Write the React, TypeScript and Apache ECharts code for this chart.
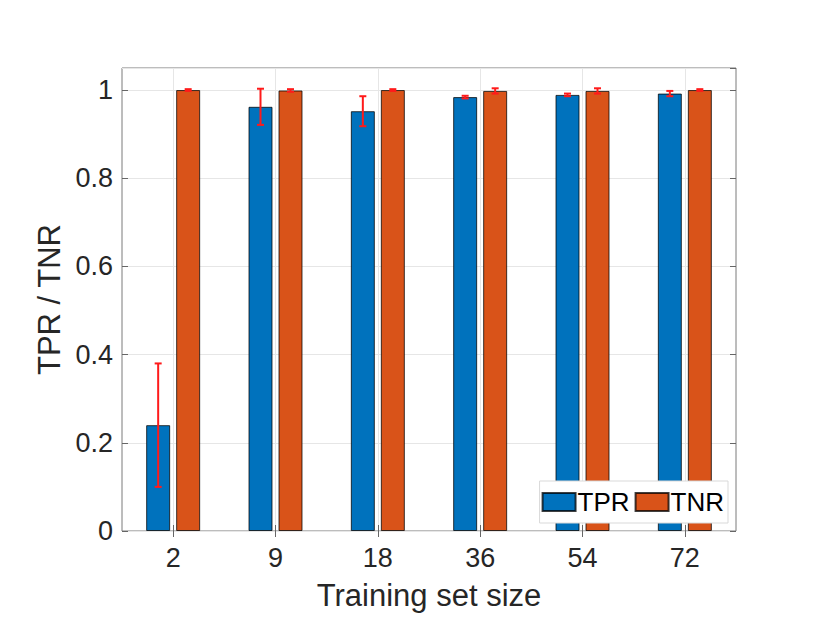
import React, { useEffect, useRef } from "react";
import * as echarts from "echarts";

const categories = ["2", "9", "18", "36", "54", "72"];
const tprValues = [0.24, 0.962, 0.952, 0.984, 0.989, 0.992];
const tprErrors = [0.14, 0.041, 0.034, 0.003, 0.003, 0.006];
const tnrValues = [1.0, 0.999, 1.0, 0.998, 0.998, 1.0];
const tnrErrors = [0.002, 0.003, 0.002, 0.006, 0.006, 0.002];
const yTicks = { min: 0, max: 1.05, interval: 0.2 };

const FONT = "'Liberation Sans', Arial, Helvetica, sans-serif";
const TEXT = "#262626";
const BAR_W = 24;
const GAP = 6;
const BLUE = "#0072BD";
const ORANGE = "#D95319";
const ERR = "#ff1a1a";

function errorSeries(values: number[], errors: number[], offset: number) {
  return {
    type: "custom",
    xAxisIndex: 0,
    yAxisIndex: 0,
    z: 5,
    silent: true,
    data: values.map((v, i) => [i, v - errors[i], v + errors[i]]),
    renderItem: (_params: any, api: any) => {
      const idx = api.value(0);
      const lo = api.coord([idx, api.value(1)]);
      const hi = api.coord([idx, api.value(2)]);
      const x = lo[0] + offset;
      const cap = 3.5;
      const style = { stroke: ERR, lineWidth: 2 };
      return {
        type: "group",
        children: [
          { type: "line", shape: { x1: x, y1: lo[1], x2: x, y2: hi[1] }, style },
          { type: "line", shape: { x1: x - cap, y1: lo[1], x2: x + cap, y2: lo[1] }, style },
          { type: "line", shape: { x1: x - cap, y1: hi[1], x2: x + cap, y2: hi[1] }, style },
        ],
      };
    },
  };
}

export default function App() {
  const ref = useRef<HTMLDivElement>(null);
  useEffect(() => {
    if (!ref.current) return;
    const chart = echarts.init(ref.current, undefined, { renderer: "svg" });
    const fine = Array.from({ length: categories.length * 2 + 1 }, (_, i) => String(i));
    const option: any = {
      animation: false,
      backgroundColor: "#ffffff",
      textStyle: { fontFamily: FONT },
      grid: {
        left: 122,
        right: 94,
        top: 68,
        bottom: 111,
        show: true,
        borderColor: "#7a7a7a",
        borderWidth: 1,
        backgroundColor: "transparent",
      },
      legend: {
        right: 102,
        bottom: 119,
        orient: "horizontal",
        itemWidth: 33,
        itemHeight: 18,
        itemGap: 5,
        padding: [8, 4, 8, 2],
        backgroundColor: "#ffffff",
        borderColor: "#d9d9d9",
        borderWidth: 1,
        textStyle: { fontFamily: FONT, fontSize: 26, color: "#000000", padding: [0, 0, 0, -3] },
        data: [
          { name: "TPR", icon: "rect" },
          { name: "TNR", icon: "rect" },
        ],
      },
      xAxis: [
        {
          type: "category",
          position: "bottom",
          data: categories,
          boundaryGap: true,
          name: "Training set size",
          nameLocation: "middle",
          nameGap: 49,
          nameTextStyle: { fontFamily: FONT, fontSize: 31, color: TEXT },
          axisLine: { show: false },
          axisTick: { show: true, inside: true, alignWithLabel: true, length: 6, lineStyle: { color: "#666" } },
          axisLabel: { fontFamily: FONT, fontSize: 27, color: TEXT, margin: 13 },
          splitLine: { show: false },
        },
        {
          type: "category",
          position: "top",
          data: fine,
          boundaryGap: false,
          axisLine: { show: false },
          axisLabel: { show: false },
          axisTick: {
            show: true,
            inside: true,
            length: 6,
            interval: (i: number) => i % 2 === 1,
            lineStyle: { color: "#666" },
          },
          splitLine: {
            show: true,
            interval: (i: number) => i % 2 === 1,
            lineStyle: { color: "#e6e6e6", width: 1 },
          },
        },
      ],
      yAxis: [
        {
          type: "value",
          position: "left",
          min: yTicks.min,
          max: yTicks.max,
          interval: yTicks.interval,
          name: "TPR / TNR",
          nameLocation: "middle",
          nameGap: 57,
          nameTextStyle: { fontFamily: FONT, fontSize: 31, color: TEXT },
          axisLine: { show: false },
          axisTick: { show: true, inside: true, length: 6, lineStyle: { color: "#666" } },
          axisLabel: { fontFamily: FONT, fontSize: 27, color: TEXT, margin: 9, showMaxLabel: false },
          splitLine: { show: true, lineStyle: { color: "#e6e6e6", width: 1 } },
        },
        {
          type: "value",
          position: "right",
          min: yTicks.min,
          max: yTicks.max,
          interval: yTicks.interval,
          axisLine: { show: false },
          axisTick: { show: true, inside: true, length: 6, lineStyle: { color: "#666" } },
          axisLabel: { show: false },
          splitLine: { show: false },
        },
      ],
      series: [
        {
          name: "TPR",
          type: "bar",
          xAxisIndex: 0,
          yAxisIndex: 0,
          data: tprValues,
          barWidth: BAR_W,
          barGap: `${(GAP / BAR_W) * 100}%`,
          itemStyle: { color: BLUE, borderColor: "rgba(0,0,0,0.75)", borderWidth: 1 },
        },
        {
          name: "TNR",
          type: "bar",
          xAxisIndex: 0,
          yAxisIndex: 0,
          data: tnrValues,
          barWidth: BAR_W,
          barGap: `${(GAP / BAR_W) * 100}%`,
          itemStyle: { color: ORANGE, borderColor: "rgba(0,0,0,0.75)", borderWidth: 1 },
        },
        errorSeries(tprValues, tprErrors, -(BAR_W + GAP) / 2),
        errorSeries(tnrValues, tnrErrors, (BAR_W + GAP) / 2),
      ],
    };
    chart.setOption(option);
    return () => chart.dispose();
  }, []);
  return <div ref={ref} style={{ width: 830, height: 642, margin: -8 }} />;
}
